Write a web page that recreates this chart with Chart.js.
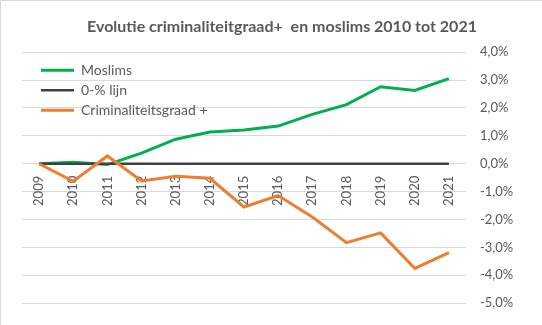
<!DOCTYPE html>
<html>
<head>
<meta charset="utf-8">
<script src="https://cdn.jsdelivr.net/npm/chart.js@4"></script>
<style>
  body { margin: 0; background: #fff; }
  #wrap { width: 542px; height: 325px; }
</style>
</head>
<body>
<div id="wrap"><canvas id="myChart"></canvas></div>
<script>
var years = ['2009', '2010', '2011', '2012', '2013', '2014', '2015', '2016', '2017', '2018', '2019', '2020', '2021'];
var moslims = [0, 0.05, -0.03, 0.38, 0.88, 1.14, 1.21, 1.35, 1.77, 2.12, 2.76, 2.63, 3.05];
var nulLijn = [0, 0, 0, 0, 0, 0, 0, 0, 0, 0, 0, 0, 0];
var criminaliteit = [0, -0.63, 0.28, -0.62, -0.45, -0.52, -1.55, -1.14, -1.91, -2.83, -2.48, -3.75, -3.19];
var yMin = -5, yMax = 4, yStep = 1;

var textColor = '#595959';

// small tweaks: frame on top/left edge, legend put inside the plot at top-left
var extras = {
    id: 'extras',
    afterLayout: function (chart) {
        var lg = chart.legend;
        var h = lg.height;
        lg.left = chart.chartArea.left + 13;
        lg.top = chart.chartArea.top + 5;
        lg.right = lg.left + lg.width;
        lg.bottom = lg.top + h;
    },
    beforeDraw: function (chart) {
        var c = chart.ctx;
        c.save();
        c.strokeStyle = '#d9d9d9';
        c.lineWidth = 1;
        c.beginPath();
        c.moveTo(0.5, chart.height);
        c.lineTo(0.5, 0.5);
        c.lineTo(chart.width, 0.5);
        c.stroke();
        c.restore();
    }
};

var ctx = document.getElementById('myChart');
new Chart(ctx, {
    type: 'line',
    data: {
        labels: years,
        datasets: [
            {label: 'Moslims', data: moslims, borderColor: '#00b050', backgroundColor: '#00b050', borderWidth: 3, order: 3},
            {label: '0-% lijn', data: nulLijn, borderColor: '#404040', backgroundColor: '#404040', borderWidth: 2.5, order: 2},
            {label: 'Criminaliteitsgraad +', data: criminaliteit, borderColor: '#ed7d31', backgroundColor: '#ed7d31', borderWidth: 3, order: 1}
        ]
    },
    options: {
        responsive: true,
        maintainAspectRatio: false,
        animation: false,
        layout: {padding: {left: 22, right: 0, top: 0, bottom: 19.5}},
        elements: {point: {radius: 0}, line: {tension: 0}},
        plugins: {
            title: {
                display: true,
                text: 'Evolutie criminaliteitgraad+  en moslims 2010 tot 2021',
                color: textColor,
                font: {family: 'Lato', size: 16, weight: 'bold'},
                padding: {top: 17, bottom: 16}
            },
            legend: {
                position: 'chartArea',
                align: 'start',
                labels: {
                    usePointStyle: true,
                    pointStyle: 'line',
                    pointStyleWidth: 33,
                    color: textColor,
                    font: {family: 'Lato', size: 14},
                    padding: 6,
                    sort: function (a, b) { return a.datasetIndex - b.datasetIndex; }
                }
            },
            tooltip: {enabled: false}
        },
        scales: {
            x: {
                position: {y: 0},
                offset: true,
                grid: {display: false, drawTicks: false},
                border: {display: false},
                ticks: {
                    color: textColor,
                    font: {family: 'Lato', size: 13},
                    minRotation: 90,
                    maxRotation: 90,
                    autoSkip: false,
                    padding: 12
                }
            },
            y: {
                position: 'right',
                min: yMin,
                max: yMax,
                grid: {color: '#d9d9d9', drawTicks: false},
                border: {display: false},
                ticks: {
                    stepSize: yStep,
                    color: textColor,
                    font: {family: 'Lato', size: 13},
                    padding: 14,
                    callback: function (v) { return v.toFixed(1).replace('.', ',') + '%'; }
                },
                afterFit: function (scale) { scale.width = 76; }
            }
        }
    },
    plugins: [extras]
});
</script>
</body>
</html>
